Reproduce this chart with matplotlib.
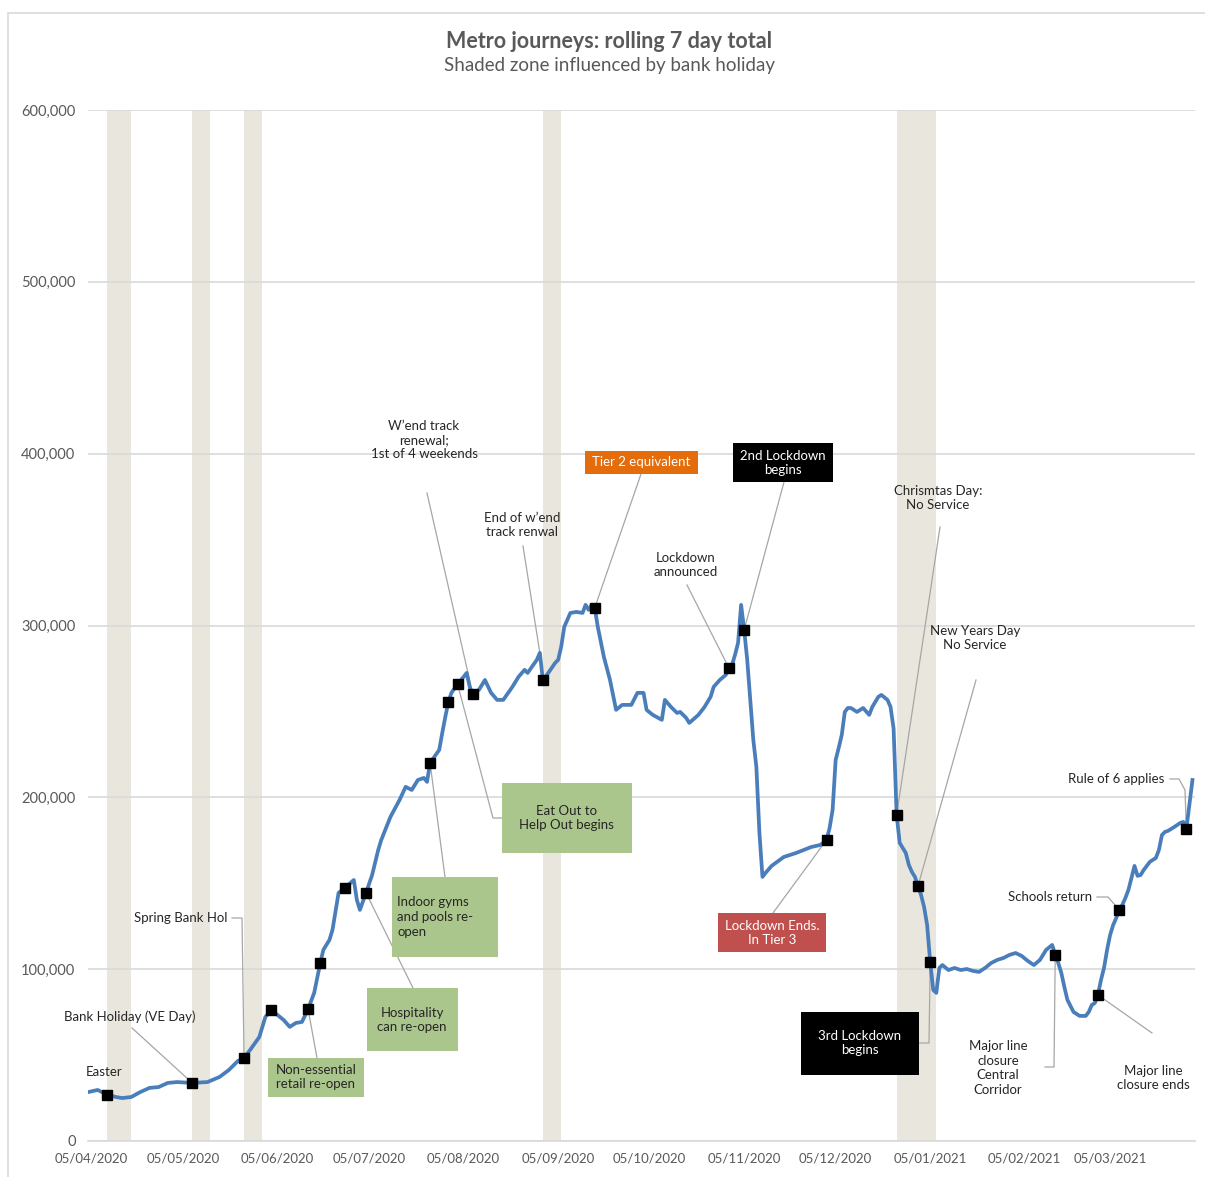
import numpy as np
import pandas as pd
import matplotlib
matplotlib.use("Agg")
import matplotlib.pyplot as plt
import matplotlib.dates as mdates
from matplotlib.lines import Line2D
from matplotlib.patches import Rectangle
from matplotlib.ticker import FuncFormatter
from matplotlib.transforms import IdentityTransform

plt.rcParams["font.family"] = ["Lato", "DejaVu Sans"]

# ------------------------------------------------------------------------------
# rolling 7 day metro journeys (thousands)
dates = [
    "2020-04-04", "2020-04-07", "2020-04-10", "2020-04-13", "2020-04-15", "2020-04-18",
    "2020-04-21", "2020-04-24", "2020-04-27", "2020-04-30", "2020-05-03", "2020-05-08",
    "2020-05-13", "2020-05-17", "2020-05-20", "2020-05-23", "2020-05-25", "2020-05-27",
    "2020-05-30", "2020-06-01", "2020-06-03", "2020-06-05", "2020-06-07", "2020-06-09",
    "2020-06-11", "2020-06-13", "2020-06-15", "2020-06-17", "2020-06-19", "2020-06-20",
    "2020-06-22", "2020-06-23", "2020-06-25", "2020-06-27", "2020-06-30", "2020-07-01",
    "2020-07-02", "2020-07-04", "2020-07-06", "2020-07-08", "2020-07-09", "2020-07-12",
    "2020-07-15", "2020-07-17", "2020-07-19", "2020-07-21", "2020-07-23", "2020-07-24",
    "2020-07-25", "2020-07-28", "2020-07-29", "2020-07-30", "2020-07-31", "2020-08-01",
    "2020-08-03", "2020-08-05", "2020-08-06", "2020-08-07", "2020-08-08", "2020-08-10",
    "2020-08-12", "2020-08-14", "2020-08-16", "2020-08-18", "2020-08-21", "2020-08-23",
    "2020-08-25", "2020-08-26", "2020-08-29", "2020-08-30", "2020-08-31", "2020-09-02",
    "2020-09-04", "2020-09-05", "2020-09-06", "2020-09-07", "2020-09-09", "2020-09-11",
    "2020-09-13", "2020-09-14", "2020-09-15", "2020-09-16", "2020-09-17", "2020-09-18",
    "2020-09-20", "2020-09-22", "2020-09-24", "2020-09-26", "2020-09-29", "2020-10-01",
    "2020-10-03", "2020-10-04", "2020-10-06", "2020-10-09", "2020-10-10", "2020-10-12",
    "2020-10-14", "2020-10-15", "2020-10-17", "2020-10-18", "2020-10-21", "2020-10-23",
    "2020-10-25", "2020-10-26", "2020-10-28", "2020-10-30", "2020-10-31", "2020-11-01",
    "2020-11-02", "2020-11-03", "2020-11-04", "2020-11-05", "2020-11-06", "2020-11-07",
    "2020-11-08", "2020-11-09", "2020-11-10", "2020-11-11", "2020-11-12", "2020-11-14",
    "2020-11-18", "2020-11-22", "2020-11-27", "2020-11-30", "2020-12-02", "2020-12-03",
    "2020-12-04", "2020-12-05", "2020-12-06", "2020-12-07", "2020-12-08", "2020-12-09",
    "2020-12-10", "2020-12-12", "2020-12-14", "2020-12-16", "2020-12-17", "2020-12-19",
    "2020-12-20", "2020-12-22", "2020-12-23", "2020-12-24", "2020-12-25", "2020-12-26",
    "2020-12-27", "2020-12-28", "2020-12-29", "2020-12-30", "2020-12-31", "2021-01-01",
    "2021-01-02", "2021-01-03", "2021-01-04", "2021-01-05", "2021-01-06", "2021-01-07",
    "2021-01-08", "2021-01-09", "2021-01-11", "2021-01-13", "2021-01-15", "2021-01-17",
    "2021-01-19", "2021-01-21", "2021-01-23", "2021-01-25", "2021-01-27", "2021-01-29",
    "2021-01-31", "2021-02-02", "2021-02-04", "2021-02-06", "2021-02-08", "2021-02-10",
    "2021-02-12", "2021-02-14", "2021-02-15", "2021-02-16", "2021-02-17", "2021-02-18",
    "2021-02-19", "2021-02-21", "2021-02-23", "2021-02-25", "2021-02-26", "2021-02-27",
    "2021-02-28", "2021-03-01", "2021-03-02", "2021-03-03", "2021-03-04", "2021-03-05",
    "2021-03-06", "2021-03-07", "2021-03-08", "2021-03-09", "2021-03-10", "2021-03-11",
    "2021-03-12", "2021-03-13", "2021-03-14", "2021-03-15", "2021-03-16", "2021-03-17",
    "2021-03-18", "2021-03-19", "2021-03-20", "2021-03-21", "2021-03-22", "2021-03-23",
    "2021-03-24", "2021-03-25", "2021-03-26", "2021-03-27", "2021-03-28", "2021-03-29",
    "2021-03-30", "2021-03-31", "2021-04-01",
]
journeys_k = [
    28.5, 29.7, 27.0, 25.6, 25.0, 25.6,
    28.5, 30.9, 31.4, 33.8, 34.3, 33.8,
    34.3, 37.3, 41.3, 46.6, 48.3, 53.0,
    60.5, 72.2, 76.3, 73.3, 70.4, 66.4,
    68.7, 69.3, 76.8, 86.2, 103.6, 111.2,
    117.0, 122.8, 144.4, 147.3, 151.9, 140.3,
    134.5, 144.4, 154.8, 169.4, 175.2, 188.6,
    198.5, 206.1, 204.3, 210.1, 211.3, 209.0,
    220.0, 227.6, 237.5, 246.8, 255.5, 260.8,
    266.0, 270.1, 272.4, 264.3, 260.2, 262.5,
    268.3, 260.8, 256.7, 256.7, 264.3, 270.1,
    274.2, 272.4, 280.0, 284.1, 268.0, 273.0,
    278.2, 280.0, 287.6, 299.2, 307.3, 307.9,
    307.3, 312.0, 309.1, 312.0, 310.3, 299.2,
    281.7, 268.3, 250.9, 253.8, 253.8, 260.8,
    260.8, 250.9, 248.0, 245.1, 256.7, 252.6,
    249.1, 249.7, 246.2, 243.3, 248.0, 252.6,
    258.5, 264.3, 268.3, 271.3, 275.3, 277.0,
    282.9, 289.9, 312.0, 297.5, 280.0, 256.7,
    233.4, 217.7, 179.3, 153.7, 156.0, 160.1,
    165.3, 167.6, 171.1, 172.3, 175.2, 182.0,
    192.7, 221.8, 228.8, 236.3, 249.7, 252.0,
    252.0, 249.7, 252.0, 248.0, 252.6, 258.5,
    259.6, 256.7, 252.6, 240.0, 189.8, 173.5,
    170.6, 167.6, 160.7, 156.6, 153.7, 148.4,
    143.2, 136.2, 125.7, 104.2, 87.9, 86.2,
    100.7, 102.4, 99.5, 100.7, 99.5, 100.1,
    99.0, 98.4, 100.7, 103.6, 105.4, 106.5,
    108.3, 109.4, 107.7, 104.8, 102.4, 105.4,
    111.2, 114.1, 108.3, 103.6, 97.8, 89.6,
    82.1, 75.1, 72.8, 72.8, 75.1, 79.2,
    80.3, 85.0, 93.7, 100.7, 111.2, 119.9,
    125.7, 129.8, 134.5, 137.4, 141.4, 146.1,
    153.1, 160.1, 154.3, 154.8, 157.7, 160.1,
    162.4, 163.6, 164.7, 169.4, 178.1, 179.9,
    180.5, 181.6, 182.7, 183.9, 185.1, 185.7,
    181.6, 195.6, 210.1,
]

# days marked with a black square
event_dates = [
    "2020-04-10", "2020-05-08", "2020-05-25", "2020-06-03", "2020-06-15", "2020-06-19",
    "2020-06-27", "2020-07-04", "2020-07-25", "2020-07-31", "2020-08-03", "2020-08-08",
    "2020-08-31", "2020-09-17", "2020-10-31", "2020-11-05", "2020-12-02", "2020-12-25",
    "2021-01-01", "2021-01-05", "2021-02-15", "2021-03-01", "2021-03-08", "2021-03-30",
]

# periods affected by a bank holiday
bank_hol_start = ["2020-04-10", "2020-05-08", "2020-05-25", "2020-08-31", "2020-12-25"]
bank_hol_end = ["2020-04-18", "2020-05-14", "2020-05-31", "2020-09-06", "2021-01-07"]

tick_dates = pd.date_range("2020-04-05", "2021-03-05", freq=pd.DateOffset(months=1))

# ------------------------------------------------------------------------------
W, H = 1205, 1177
GREY = "#595959"
LEAD = "#a6a6a6"
GREEN = "#abc68c"

series = pd.Series(np.array(journeys_k) * 1000, index=pd.to_datetime(dates))
events = pd.to_datetime(event_dates)

fig = plt.figure(figsize=(W / 100, H / 100), dpi=100)
fig.patch.set_facecolor("white")
ax = fig.add_axes([88 / W, 36 / H, 1107 / W, 1031 / H])

for s, e in zip(bank_hol_start, bank_hol_end):
    ax.axvspan(pd.Timestamp(s), pd.Timestamp(e), color="#e9e7dd", lw=0, zorder=0)

ax.plot(series.index, series.values, color="#4a7ebb", lw=2.7,
        solid_joinstyle="round", zorder=3)
ax.plot(events, series.loc[events].values, "s", color="black", ms=7.5, zorder=4)

ax.set_xlim(pd.Timestamp("2020-04-03 20:00"), pd.Timestamp("2021-04-01 20:00"))
ax.set_ylim(0, 600000)
ax.set_yticks(np.arange(0, 600001, 100000))
ax.yaxis.set_major_formatter(FuncFormatter(lambda v, p: f"{v:,.0f}"))
ax.set_xticks(tick_dates)
ax.xaxis.set_major_formatter(mdates.DateFormatter("%d/%m/%Y"))
ax.tick_params(axis="y", length=0, pad=9, labelsize=10.5, labelcolor=GREY)
ax.tick_params(axis="x", length=0, pad=8, labelsize=9.5, labelcolor=GREY)
ax.grid(axis="y", color="#d9d9d9", lw=1.2)
ax.set_axisbelow(True)
for side in ["top", "right", "left"]:
    ax.spines[side].set_visible(False)
ax.spines["bottom"].set_color("#d9d9d9")
ax.spines["bottom"].set_linewidth(1.2)

# outer chart frame
fig.add_artist(Rectangle((8 / W, -0.05), 1.1, 1.05 - 13 / H, transform=fig.transFigure,
                         fill=False, ec="#d9d9d9", lw=1.2))

fig.text(609 / W, 1 - 41 / H, "Metro journeys: rolling 7 day total", ha="center",
         va="center", fontsize=15.5, fontweight="bold", color=GREY)
fig.text(609 / W, 1 - 65 / H, "Shaded zone influenced by bank holiday", ha="center",
         va="center", fontsize=13.5, color=GREY)


# ------------------------------------------------------------------------------
def fpos(x, y):
    return x / W, 1 - y / H


def leader(points, target):
    # grey callout line from the label to the point on the series
    d = pd.Timestamp(target)
    ex, ey = ax.transData.transform((mdates.date2num(d), series.loc[d]))
    xs = [p[0] for p in points] + [ex]
    ys = [H - p[1] for p in points] + [ey]
    ax.add_line(Line2D(xs, ys, transform=IdentityTransform(), color=LEAD, lw=0.9,
                       clip_on=False, zorder=2.5))


notes = [
    dict(text="Easter", pos=(104, 1072)),
    dict(text="Bank Holiday (VE Day)", pos=(130, 1017),
         lead=[(132, 1028)], target="2020-05-08"),
    dict(text="Spring Bank Hol", pos=(228, 918), ha="right",
         lead=[(232, 918), (242, 918)], target="2020-05-25"),
    dict(text="Non-essential\nretail re-open", pos=(316, 1077), box=(268, 1058, 364, 1097),
         fc=GREEN, lead=[(317, 1058)], target="2020-06-15"),
    dict(text="Hospitality\ncan re-open", pos=(412, 1020), box=(367, 988, 458, 1051),
         fc=GREEN, lead=[(413, 988)], target="2020-07-04"),
    dict(text="Indoor gyms\nand pools re-\nopen", pos=(397, 917), ha="left",
         box=(392, 877, 498, 957), fc=GREEN, lead=[(445, 877)], target="2020-07-25"),
    dict(text="Eat Out to\nHelp Out begins", pos=(566, 818), box=(502, 783, 632, 853),
         fc=GREEN, lead=[(502, 818), (493, 818)], target="2020-08-03"),
    dict(text="W\u2019end track\nrenewal;\n1st of 4 weekends", pos=(424, 440),
         lead=[(427, 493)], target="2020-08-08"),
    dict(text="End of w\u2019end\ntrack renwal", pos=(522, 525),
         lead=[(523, 546)], target="2020-08-30"),
    dict(text="Tier 2 equivalent", pos=(641, 462), box=(585, 451, 698, 474),
         fc="#e46c0a", color="white", lead=[(641, 474)], target="2020-09-17"),
    dict(text="Lockdown\nannounced", pos=(686, 565),
         lead=[(687, 585)], target="2020-10-31"),
    dict(text="2nd Lockdown\nbegins", pos=(783, 463), box=(733, 443, 833, 482),
         fc="black", color="white", lead=[(784, 482)], target="2020-11-05"),
    dict(text="Lockdown Ends.\nIn Tier 3", pos=(772, 933), box=(718, 913, 826, 952),
         fc="#c0504d", color="white", lead=[(773, 913)], target="2020-12-02"),
    dict(text="Chrismtas Day:\nNo Service", pos=(938, 498),
         lead=[(940, 527)], target="2020-12-25"),
    dict(text="New Years Day\nNo Service", pos=(975, 638),
         lead=[(976, 680)], target="2021-01-01"),
    dict(text="3rd Lockdown\nbegins", pos=(860, 1043), box=(801, 1012, 919, 1075),
         fc="black", color="white", lead=[(919, 1043), (929, 1043)], target="2021-01-05"),
    dict(text="Major line\nclosure\nCentral\nCorridor", pos=(998, 1068),
         lead=[(1045, 1067), (1054, 1067)], target="2021-02-15"),
    dict(text="Major line\nclosure ends", pos=(1153, 1078),
         lead=[(1152, 1033)], target="2021-03-01"),
    dict(text="Schools return", pos=(1092, 897), ha="right",
         lead=[(1097, 897), (1108, 897)], target="2021-03-08"),
    dict(text="Rule of 6 applies", pos=(1164, 779), ha="right",
         lead=[(1170, 779), (1179, 779), (1185, 790)], target="2021-03-30"),
]

for n in notes:
    if "box" in n:
        x0, y0, x1, y1 = n["box"]
        fig.add_artist(Rectangle(fpos(x0, y1), (x1 - x0) / W, (y1 - y0) / H,
                                 transform=fig.transFigure, fc=n["fc"], ec="none"))
    ha = n.get("ha", "center")
    fig.text(*fpos(*n["pos"]), n["text"], ha=ha, va="center", multialignment=ha,
             fontsize=9.5, color=n.get("color", "#262626"), linespacing=1.25)
    if "lead" in n:
        leader(n["lead"], n["target"])

fig.savefig("out.png", dpi=100)
